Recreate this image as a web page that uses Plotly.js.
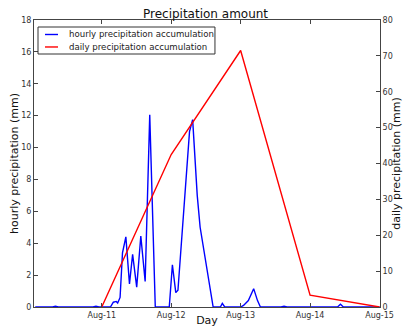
<!DOCTYPE html>
<html>
<head>
<meta charset="utf-8">
<script src="https://cdn.plot.ly/plotly-3.0.1.min.js"></script>
<style>html,body{margin:0;padding:0;background:#fff;}#chart{width:403px;height:327px;}</style>
</head>
<body>
<div id="chart"></div>
<script>
// hourly precipitation accumulation (mm), left axis
const hourlyTimes = [
  "2014-08-10 01:00","2014-08-10 07:00","2014-08-10 08:00","2014-08-10 09:00",
  "2014-08-10 21:00","2014-08-10 22:00","2014-08-10 23:00",
  "2014-08-11 03:00","2014-08-11 04:00","2014-08-11 05:00","2014-08-11 05:30",
  "2014-08-11 06:20","2014-08-11 07:10","2014-08-11 08:20","2014-08-11 09:35",
  "2014-08-11 10:40","2014-08-11 12:05","2014-08-11 13:30","2014-08-11 15:00",
  "2014-08-11 16:35","2014-08-11 18:30","2014-08-11 23:20",
  "2014-08-12 00:25","2014-08-12 01:35","2014-08-12 02:20","2014-08-12 04:30",
  "2014-08-12 06:20","2014-08-12 07:25","2014-08-12 09:00","2014-08-12 10:00",
  "2014-08-12 11:50","2014-08-12 13:30","2014-08-12 14:30","2014-08-12 17:00",
  "2014-08-12 17:40","2014-08-12 18:30",
  "2014-08-13 00:00","2014-08-13 01:00","2014-08-13 02:40","2014-08-13 04:30",
  "2014-08-13 05:50","2014-08-13 06:50","2014-08-13 14:00","2014-08-13 15:00",
  "2014-08-13 16:00",
  "2014-08-14 09:30","2014-08-14 10:30","2014-08-14 11:30","2014-08-15 00:00"
];
const hourlyValues = [
  0,0,0.05,0,
  0,0.05,0,
  0,0.3,0.35,0.25,
  0.6,3.4,4.4,1.45,
  3.3,1.25,4.45,1.6,
  12.05,0,0,
  2.65,0.9,1.05,6.3,
  11.0,11.75,7.0,5.0,
  3.0,1.2,0,0,
  0.23,0,
  0,0.1,0.4,1.15,
  0.4,0,0,0.05,
  0,
  0,0.18,0,0
];
// daily precipitation accumulation (mm), right axis
const dailyTimes = ["2014-08-11","2014-08-12","2014-08-13","2014-08-14","2014-08-15"];
const dailyValues = [0, 42.5, 71.5, 3.3, 0];

const tickDays = ["2014-08-11","2014-08-12","2014-08-13","2014-08-14","2014-08-15"];
const tickLabels = ["Aug-11","Aug-12","Aug-13","Aug-14","Aug-15"];

const seriesNames = ["hourly precipitation accumulation", "daily precipitation accumulation"];
const seriesColors = ["#0000ff", "#ff0000"];

const FONT = "DejaVu Sans, sans-serif";
const AX = "#444";

const traces = [
  {x: hourlyTimes, y: hourlyValues, type: "scatter", mode: "lines",
   name: seriesNames[0], line: {color: seriesColors[0], width: 1.4}},
  {x: dailyTimes, y: dailyValues, type: "scatter", mode: "lines", yaxis: "y2",
   name: seriesNames[1], line: {color: seriesColors[1], width: 1.4}}
];

// compact matplotlib-style legend drawn in paper coordinates
const legTop = 0.9756, legBottom = 0.8815, legLeft = 0.0116, legRight = 0.523;
const rowY = [0.9495, 0.906];
const shapes = [
  {type: "rect", xref: "paper", yref: "paper", x0: legLeft, x1: legRight, y0: legBottom, y1: legTop,
   line: {color: "#333", width: 1}, fillcolor: "#fff", layer: "above"}
];
const annotations = [];
seriesNames.forEach((nm, i) => {
  shapes.push({type: "line", xref: "paper", yref: "paper", x0: 0.0318, x1: 0.0694, y0: rowY[i], y1: rowY[i],
               line: {color: seriesColors[i], width: 1.4}, layer: "above"});
  annotations.push({xref: "paper", yref: "paper", x: 0.0954, y: rowY[i], xanchor: "left", yanchor: "middle",
                    text: nm, showarrow: false, font: {family: FONT, size: 8.6, color: "#222"}});
});

const layout = {
  width: 403, height: 327,
  margin: {l: 34, r: 23, t: 20, b: 20, pad: 0},
  paper_bgcolor: "#fff", plot_bgcolor: "#fff",
  font: {family: FONT, size: 8, color: "#333"},
  title: {text: "Precipitation amount", font: {family: FONT, size: 12, color: "#111"},
          x: 0.51, xanchor: "center", yref: "container", y: 0.957, yanchor: "middle"},
  showlegend: false,
  shapes: shapes,
  annotations: annotations,
  xaxis: {
    type: "date", range: ["2014-08-10 00:35", "2014-08-15 00:10"],
    tickvals: tickDays, ticktext: tickLabels,
    ticks: "inside", ticklen: 4, tickcolor: AX, mirror: "ticks",
    showline: true, linecolor: AX, linewidth: 1, showgrid: false, zeroline: false,
    tickfont: {size: 8, color: "#333"},
    title: {text: "Day", font: {size: 11, color: "#111"}, standoff: 3}
  },
  yaxis: {
    range: [0, 18], dtick: 2, ticks: "inside", ticklen: 4, tickcolor: AX,
    showline: true, linecolor: AX, linewidth: 1, showgrid: false, zeroline: false,
    tickfont: {size: 8, color: "#333"},
    title: {text: "hourly precipitation (mm)", font: {size: 11, color: "#111"}, standoff: 0}
  },
  yaxis2: {
    overlaying: "y", side: "right",
    range: [0, 80], dtick: 10, ticks: "inside", ticklen: 4, tickcolor: AX,
    showline: true, linecolor: AX, linewidth: 1, showgrid: false, zeroline: false,
    tickfont: {size: 8, color: "#333"},
    title: {text: "daily precipitation (mm)", font: {size: 11, color: "#111"}, standoff: 4}
  }
};

Plotly.newPlot("chart", traces, layout, {displayModeBar: false, staticPlot: true});
</script>
</body>
</html>
